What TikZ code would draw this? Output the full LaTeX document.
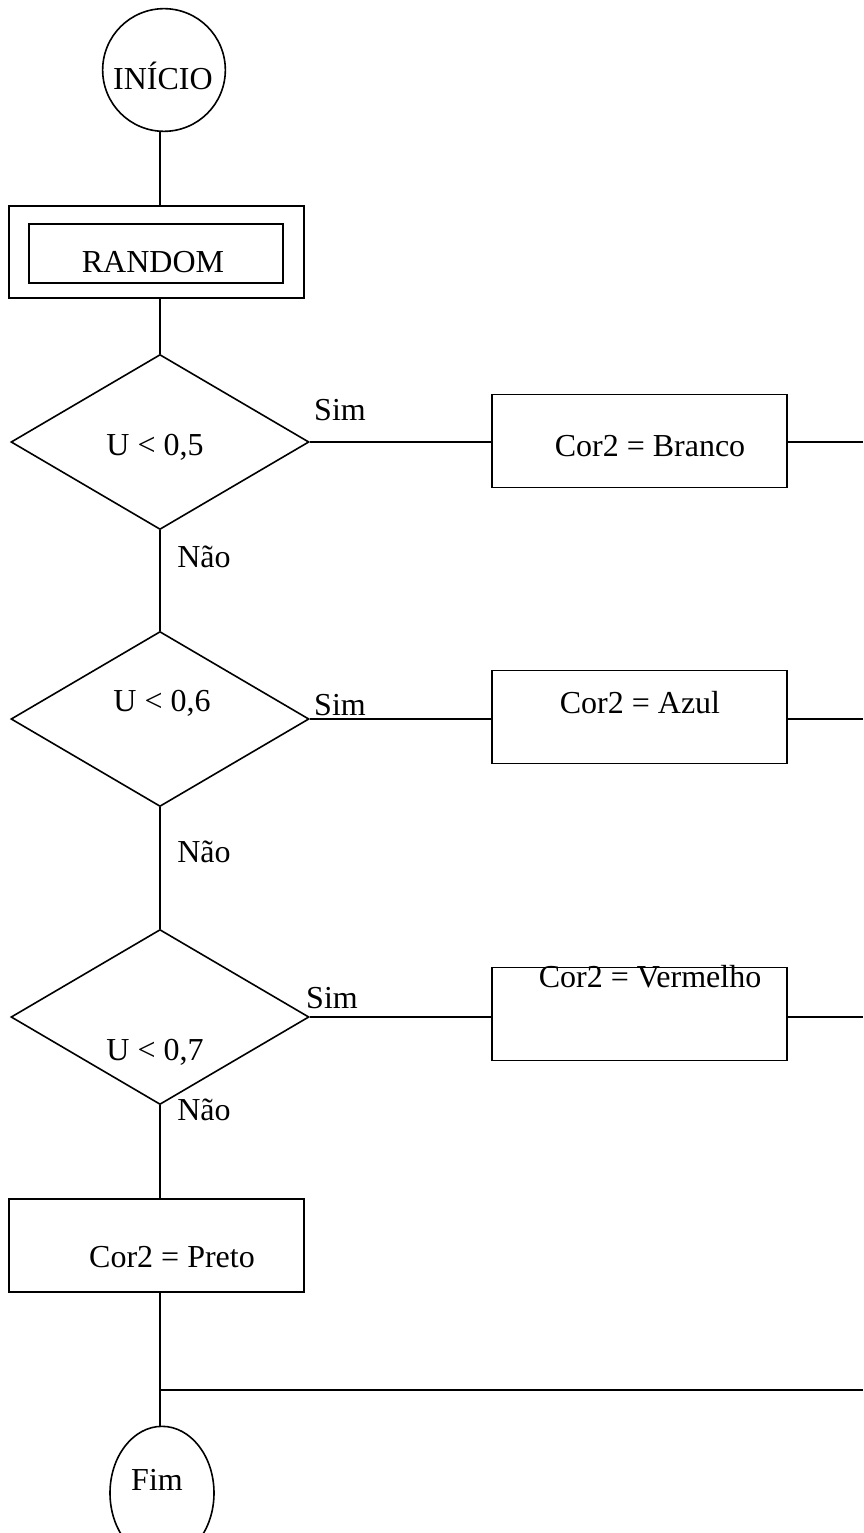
\documentclass[tikz,border=0pt]{standalone}
\usepackage{fontspec}
\setmainfont{Liberation Serif}
\usetikzlibrary{shapes.geometric}
\begin{document}
\begin{tikzpicture}[x=0.75pt,y=-0.75pt,
  every node/.style={font=\fontsize{24}{28}\selectfont},
  shp/.style={draw,line width=1.2pt,inner sep=0pt},
  dec/.style={shp,diamond,minimum width=223.5pt,minimum height=131.25pt},
  proc/.style={shp,rectangle,minimum width=221.25pt,minimum height=69.75pt},
  term/.style={shp,circle,minimum size=92pt},
  termb/.style={shp,ellipse,minimum width=78pt,minimum height=100pt},
  conn/.style={line width=1.2pt},
  lbl/.style={inner sep=0pt}]
\useasboundingbox (0,0) rectangle (863,1533);
% start
\node[term] (ini) at (164,70) {};
\node[lbl] (tini) at (163,76) {INÍCIO};
% random
\node[shp,rectangle,minimum width=221.25pt,minimum height=69pt] (rnd) at (156.5,252) {};
\node[shp,rectangle,minimum width=190.5pt,minimum height=44.25pt] (rndi) at (156,253.5) {};
\node[lbl] (trnd) at (153,262) {RANDOM};
% decisions
\node[dec] (d1) at (160,442) {};
\node[lbl] (td1) at (155,447) {U < 0,5};
\node[dec] (d2) at (160,719) {};
\node[lbl] (td2) at (162,703) {U < 0,6};
\node[dec] (d3) at (160,1017) {};
\node[lbl] (td3) at (155,1052) {U < 0,7};
% process boxes
\node[proc] (b1) at (639.5,441) {};
\node[lbl] (tb1) at (650,446) {Cor2 = Branco};
\node[proc] (b2) at (639.5,717) {};
\node[lbl] (tb2) at (640,703) {Cor2 = Azul};
\node[proc] (b3) at (639.5,1014) {};
\node[lbl] (tb3) at (650,977) {Cor2 = Vermelho};
\node[proc] (b4) at (156.5,1245.5) {};
\node[lbl] (tb4) at (172,1257) {Cor2 = Preto};
% end
\node[termb] (fim) at (162,1493) {};
\node[lbl] (tfim) at (157,1480) {Fim};
% edge coordinates
\coordinate (e1) at (863,442);
\coordinate (e2) at (863,719);
\coordinate (e3) at (863,1017);
\coordinate (e4) at (863,1390);
\coordinate (j) at (160,1390);
% labels
\node[lbl] (s1) at (340,410) {Sim};
\node[lbl] (s2) at (340,705) {Sim};
\node[lbl] (s3) at (332,998) {Sim};
\node[lbl] (n1) at (204,557) {Não};
\node[lbl] (n2) at (204,852) {Não};
\node[lbl] (n3) at (204,1110) {Não};
% connectors
\draw[conn] (d1.north |- ini.south) -- (d1.north |- rnd.north);
\draw[conn] (d1.north |- rnd.south) -- (d1.north);
\draw[conn] (d1.east) -- (d1.east -| b1.west);
\draw[conn] (b1.east |- e1) -- (e1);
\draw[conn] (d1.south) -- (d2.north);
\draw[conn] (d2.east) -- (d2.east -| b2.west);
\draw[conn] (b2.east |- e2) -- (e2);
\draw[conn] (d2.south) -- (d3.north);
\draw[conn] (d3.east) -- (d3.east -| b3.west);
\draw[conn] (b3.east |- e3) -- (e3);
\draw[conn] (d3.south) -- (d3.south |- b4.north);
\draw[conn] (d3.south |- b4.south) -- (d3.south |- fim.north);
\draw[conn] (j) -- (e4);
\end{tikzpicture}
\end{document}
